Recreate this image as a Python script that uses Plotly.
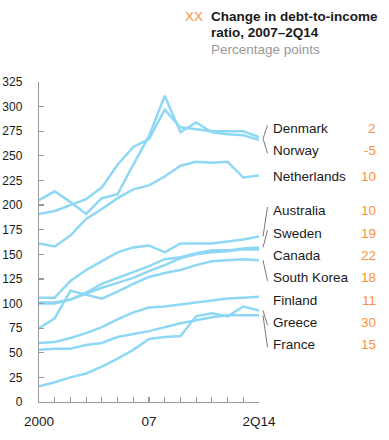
import plotly.graph_objects as go

years = list(range(2000, 2015))  # 2014 stands for 2Q14
x_tick_text = ["2000", "", "", "", "", "", "", "07", "", "", "", "", "", "", "2Q14"]

countries = ["Denmark", "Norway", "Netherlands", "Australia", "Sweden",
             "Canada", "South Korea", "Finland", "Greece", "France"]
changes = ["2", "-5", "10", "10", "19", "22", "18", "11", "30", "15"]

denmark = [191, 194, 200, 206, 218, 241, 259, 267, 297, 279, 277, 275, 275, 275, 269]
norway = [205, 214, 203, 191, 207, 211, 241, 270, 311, 274, 284, 274, 272, 271, 266]
netherlands = [161, 158, 169, 186, 196, 207, 216, 220, 229, 240, 244, 243, 244, 228, 230]
australia = [106, 106, 123, 134, 143, 152, 157, 159, 152, 161, 161, 161, 163, 165, 168]
sweden = [101, 101, 104, 111, 120, 126, 132, 138, 145, 147, 151, 154, 154, 156, 157]
canada = [100, 100, 104, 110, 116, 121, 126, 133, 139, 146, 150, 152, 153, 155, 155]
south_korea = [75, 85, 113, 109, 105, 112, 120, 127, 131, 134, 139, 143, 144, 145, 144]
finland = [60, 61, 65, 70, 76, 84, 91, 96, 97, 99, 101, 103, 105, 106, 107]
greece = [16, 20, 25, 29, 36, 44, 53, 64, 66, 67, 87, 90, 87, 97, 93]
france = [53, 54, 54, 58, 60, 66, 69, 72, 76, 80, 83, 86, 88, 88, 88]

series = [denmark, norway, netherlands, australia, sweden,
          canada, south_korea, finland, greece, france]

# label vertical positions (in y-axis units) for the right-hand labels
label_y = [278, 255.5, 229, 195, 171.5, 148.5, 126, 103.5, 81, 58.5]

LINE = "#8fd8f5"
ORANGE = "#f7923a"
GREY_AX = "#999999"
FONT = "Liberation Sans, Arial, sans-serif"

Y_MAX = 325
PL, PR, PT, PB = 39, 259, 82, 402   # plot area in page pixels
W, H = 389, 440
PW, PH = PR - PL, PB - PT


def px_x(px):
    return (px - PL) / PW


def px_y(py):
    return (PB - py) / PH


fig = go.Figure()
for name, vals in zip(countries, series):
    fig.add_trace(go.Scatter(x=years, y=vals, mode="lines", name=name,
                             line=dict(color=LINE, width=2.5),
                             hoverinfo="skip", showlegend=False))

annotations = []
shapes = []
for i, (name, chg, ly) in enumerate(zip(countries, changes, label_y)):
    annotations.append(dict(xref="paper", yref="y", x=px_x(271), y=ly,
                            text=name, showarrow=False, xanchor="left",
                            yanchor="middle",
                            font=dict(family=FONT, size=13.5, color="#1a1a1a")))
    annotations.append(dict(xref="paper", yref="y", x=px_x(378), y=ly,
                            text=chg, showarrow=False, xanchor="right",
                            yanchor="middle",
                            font=dict(family=FONT, size=13.5, color=ORANGE)))

# connector lines from series ends to labels (skip Netherlands, Canada, Finland)
connect_idx = [0, 1, 3, 4, 6, 8, 9]
for i in connect_idx:
    start = series[i][-1]
    if i in (0, 1):
        start = (denmark[-1] + norway[-1]) / 2
    end = label_y[i] + (3 if label_y[i] > start else -3)
    shapes.append(dict(type="line", xref="paper", yref="paper",
                       x0=px_x(263), x1=px_x(267.5),
                       y0=start / Y_MAX, y1=end / Y_MAX,
                       line=dict(color="#555555", width=0.8)))

# title block
title_lines = [
    ("<b>Change in debt-to-income</b>", "#1a1a1a", 16.5),
    ("<b>ratio, 2007–2Q14</b>", "#1a1a1a", 32.8),
    ("Percentage points", "#999999", 49.2),
]
annotations.append(dict(xref="paper", yref="paper", x=px_x(182.5), y=px_y(16.5),
                        yanchor="middle", xanchor="left", text="XX",
                        showarrow=False,
                        font=dict(family=FONT, size=13.5, color=ORANGE)))
for txt, col, cy in title_lines:
    annotations.append(dict(xref="paper", yref="paper", x=px_x(208.5), y=px_y(cy),
                            yanchor="middle", xanchor="left", align="left",
                            showarrow=False, text=txt,
                            font=dict(family=FONT, size=13.5, color=col)))

fig.update_layout(
    width=W, height=H,
    margin=dict(l=PL, r=W - PR, t=PT, b=H - PB, pad=0, autoexpand=False),
    paper_bgcolor="white", plot_bgcolor="white",
    font=dict(family=FONT, color="#1a1a1a"),
    annotations=annotations, shapes=shapes,
    xaxis=dict(range=[2000, 2014], tickvals=years, ticktext=x_tick_text,
               showgrid=False, zeroline=False, showline=True, automargin=False,
               linecolor=GREY_AX, linewidth=1.2, ticks="inside", ticklen=5,
               tickcolor=GREY_AX, tickwidth=1.2, ticklabelstandoff=7,
               tickfont=dict(family=FONT, size=13.5, color="#1a1a1a")),
    yaxis=dict(range=[0, Y_MAX], tickvals=list(range(0, 326, 25)),
               showgrid=False, zeroline=False, showline=True, automargin=False,
               linecolor=GREY_AX, linewidth=1.2, ticks="inside", ticklen=5,
               tickcolor=GREY_AX, tickwidth=1.2, ticklabelstandoff=13,
               tickfont=dict(family=FONT, size=12, color="#1a1a1a")),
)

fig.write_html("out.html", config={"displayModeBar": False, "staticPlot": True},
               post_script="document.body.style.margin='0px';")
